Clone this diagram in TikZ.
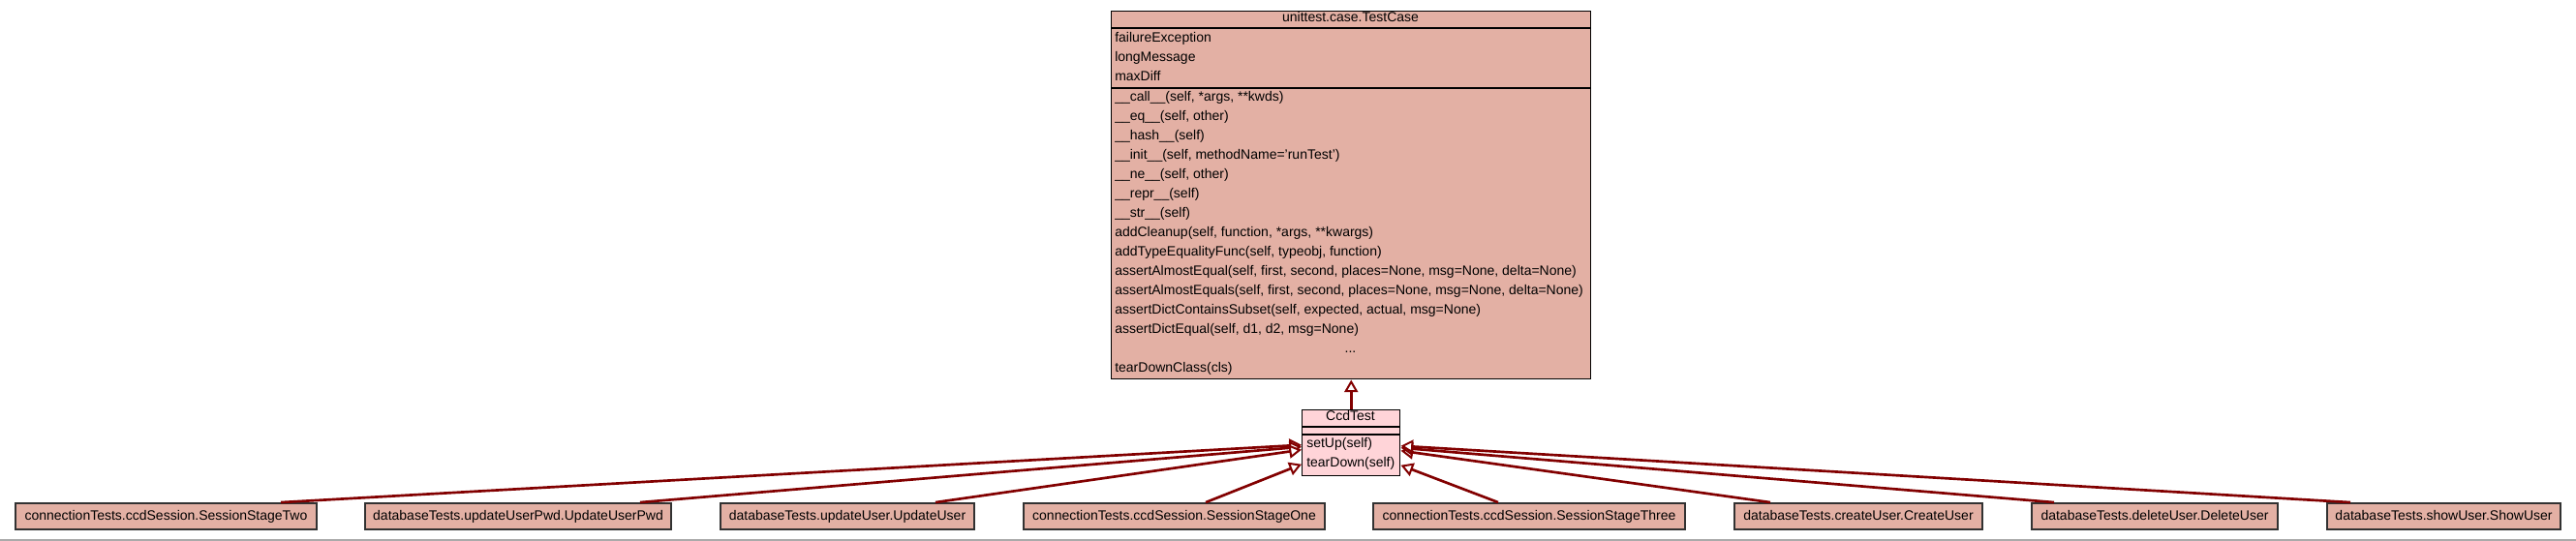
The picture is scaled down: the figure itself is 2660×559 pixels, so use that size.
\documentclass[tikz,border=0pt]{standalone}
\usepackage{fontspec}
\setmainfont{Liberation Sans}
\usetikzlibrary{arrows.meta,calc}
\definecolor{boxfill}{RGB}{227,176,164}
\definecolor{ccdfill}{RGB}{255,212,216}
\definecolor{edgered}{RGB}{130,0,0}
\definecolor{boxline}{RGB}{50,50,50}
\tikzset{
  lbl/.style={inner sep=0pt, font=\fontsize{10.5pt}{12pt}\selectfont},
  classbox/.style={draw=black, line width=1.1pt, anchor=north west, inner sep=0pt},
  leafbox/.style={draw=boxline, line width=1.4pt, fill=boxfill, inner xsep=3pt, inner ysep=0pt,
     minimum height=20.25pt, text height=7.6pt, text depth=2.1pt,
     font=\fontsize{10.5pt}{12pt}\selectfont},
  bw/.style={minimum width={#1*0.75pt}},
  inh/.style={draw=edgered, line width=2pt,
     -{Triangle[fill=white, length=9.5pt, width=10.5pt, line width=1.5pt]}},
}
\begin{document}
\begin{tikzpicture}[x=0.75pt,y=-0.75pt]
\useasboundingbox (0,0) rectangle (2660,559);
\fill[white] (0,0) rectangle (2660,559);
\draw[line width=1.5pt, draw={rgb,255:red,170;green,170;blue,170}] (0,557.5) -- (2660,557.5);

% TestCase
\node[classbox, fill=boxfill, minimum width={495*0.75pt}, minimum height={380*0.75pt}] (tc) at (1147,11) {};
\draw[line width=1.1pt] (tc.west |- 0,29) -- (tc.east |- 0,29);
\draw[line width=1.1pt] (tc.west |- 0,91) -- (tc.east |- 0,91);
\node[lbl, anchor=base] (tct) at (1394.5,23) {unittest.case.TestCase};
\node[lbl, anchor=base west] (a1) at (1151,44) {failureException};
\node[lbl, anchor=base west] (a2) at (1151,64) {longMessage};
\node[lbl, anchor=base west] (a3) at (1151,84) {maxDiff};
\node[lbl, anchor=base west] (m1) at (1151,105) {\_\_call\_\_(self, *args, **kwds)};
\node[lbl, anchor=base west] (m2) at (1151,125) {\_\_eq\_\_(self, other)};
\node[lbl, anchor=base west] (m3) at (1151,145) {\_\_hash\_\_(self)};
\node[lbl, anchor=base west] (m4) at (1151,165) {\_\_init\_\_(self, methodName='runTest')};
\node[lbl, anchor=base west] (m5) at (1151,185) {\_\_ne\_\_(self, other)};
\node[lbl, anchor=base west] (m6) at (1151,205) {\_\_repr\_\_(self)};
\node[lbl, anchor=base west] (m7) at (1151,225) {\_\_str\_\_(self)};
\node[lbl, anchor=base west] (m8) at (1151,245) {addCleanup(self, function, *args, **kwargs)};
\node[lbl, anchor=base west] (m9) at (1151,265) {addTypeEqualityFunc(self, typeobj, function)};
\node[lbl, anchor=base west] (m10) at (1151,285) {assertAlmostEqual(self, first, second, places=None, msg=None, delta=None)};
\node[lbl, anchor=base west] (m11) at (1151,305) {assertAlmostEquals(self, first, second, places=None, msg=None, delta=None)};
\node[lbl, anchor=base west] (m12) at (1151,325) {assertDictContainsSubset(self, expected, actual, msg=None)};
\node[lbl, anchor=base west] (m13) at (1151,345) {assertDictEqual(self, d1, d2, msg=None)};
\node[lbl, anchor=base] (m14) at (1394.5,365) {...};
\node[lbl, anchor=base west] (m15) at (1151,385) {tearDownClass(cls)};

% CcdTest
\node[classbox, fill=ccdfill, minimum width={101*0.75pt}, minimum height={68*0.75pt}] (ccd) at (1344,423) {};
\draw[line width=1.1pt] (ccd.west |- 0,441) -- (ccd.east |- 0,441);
\draw[line width=1.1pt] (ccd.west |- 0,449) -- (ccd.east |- 0,449);
\node[lbl, anchor=base] (ccdt) at (1394.5,435) {CcdTest};
\node[lbl, anchor=base west] (c1) at (1349,463) {setUp(self)};
\node[lbl, anchor=base west] (c2) at (1349,483) {tearDown(self)};

% leaf classes
\node[leafbox, bw=311] (b1) at (171.5,533.5) {connectionTests.ccdSession.SessionStageTwo};
\node[leafbox, bw=316] (b2) at (535,533.5) {databaseTests.updateUserPwd.UpdateUserPwd};
\node[leafbox, bw=262] (b3) at (875,533.5) {databaseTests.updateUser.UpdateUser};
\node[leafbox, bw=311] (b4) at (1212.5,533.5) {connectionTests.ccdSession.SessionStageOne};
\node[leafbox, bw=322] (b5) at (1579,533.5) {connectionTests.ccdSession.SessionStageThree};
\node[leafbox, bw=256] (b6) at (1919,533.5) {databaseTests.createUser.CreateUser};
\node[leafbox, bw=254] (b7) at (2225,533.5) {databaseTests.deleteUser.DeleteUser};
\node[leafbox, bw=241] (b8) at (2523.5,533.5) {databaseTests.showUser.ShowUser};

% inheritance edges
\draw[inh] (ccd.north) -- (tc.south);
\draw[inh] ([xshift=88.9pt]b1.north) -- ([yshift=-1.5pt]ccd.west);
\draw[inh] ([xshift=94.5pt]b2.north) -- ([yshift=-3pt]ccd.west);
\draw[inh] ([xshift=68.25pt]b3.north) -- ([yshift=-5.25pt]ccd.west);
\draw[inh] ([xshift=24.4pt]b4.north) -- ([yshift=-16.5pt]ccd.west);
\draw[inh] ([xshift=-24pt]b5.north) -- ([yshift=-17.25pt]ccd.east);
\draw[inh] ([xshift=-68.25pt]b6.north) -- ([yshift=-6pt]ccd.east);
\draw[inh] ([xshift=-78pt]b7.north) -- ([yshift=-3.75pt]ccd.east);
\draw[inh] ([xshift=-72.4pt]b8.north) -- ([yshift=-2.25pt]ccd.east);
\end{tikzpicture}
\end{document}
